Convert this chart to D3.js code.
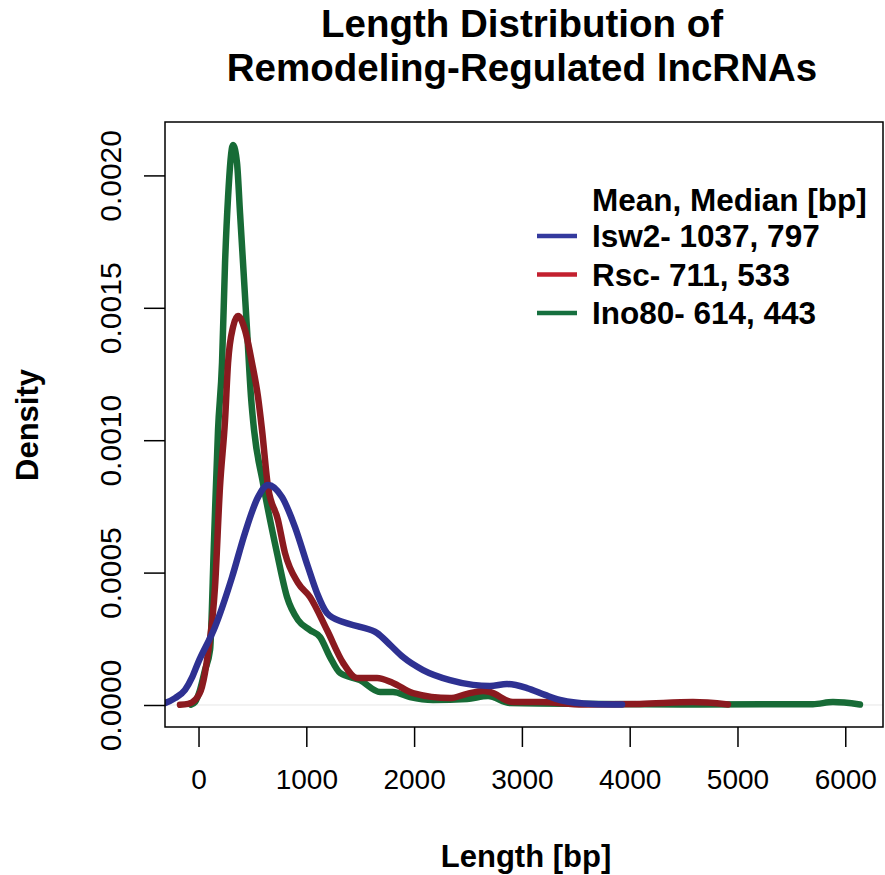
<!DOCTYPE html>
<html>
<head>
<meta charset="utf-8">
<script src="https://cdn.jsdelivr.net/npm/d3@7"></script>
<style>
  html, body { margin: 0; padding: 0; background: #fff; }
  svg { display: block; }
  text { font-family: "Liberation Sans", Arial, Helvetica, sans-serif; fill: #000; }
</style>
</head>
<body>
<svg id="chart" width="885" height="875"></svg>
<script>
// Kernel density estimates of lncRNA length, one curve per remodeler
const isw2Len = [-330, -311, -218, -125, -60, -5, 153, 311, 431, 552, 645, 775, 895, 1016, 1099, 1192, 1341, 1498, 1656, 1777, 1897, 2083, 2333, 2547, 2704, 2862, 3047, 3214, 3353, 3660, 3929];
const isw2Den = [0.0000055, 0.0000075, 0.000026, 0.000057, 0.000104, 0.000159, 0.000295, 0.000483, 0.00065, 0.000785, 0.000831, 0.000785, 0.000672, 0.000521, 0.000423, 0.000347, 0.000313, 0.000295, 0.000272, 0.000227, 0.000181, 0.000132, 0.000094, 0.000076, 0.000072, 0.000079, 0.000064, 0.000038, 0.000019, 0.000004, 0.000002];

const rscLen = [-172, -97, -32, 32, 88, 153, 199, 246, 274, 320, 366, 431, 496, 552, 589, 645, 737, 802, 923, 1034, 1192, 1341, 1470, 1656, 1804, 1990, 2333, 2491, 2639, 2704, 2917, 3168, 3567, 4096, 4587, 4912];
const rscDen = [0.000001, 0.000004, 0.000019, 0.000068, 0.000196, 0.000446, 0.000823, 0.001076, 0.001292, 0.001427, 0.001469, 0.001416, 0.001292, 0.001163, 0.001039, 0.000823, 0.000699, 0.000574, 0.000461, 0.000408, 0.000283, 0.000159, 0.000102, 0.000102, 0.000083, 0.000045, 0.000026, 0.000042, 0.000053, 0.000049, 0.000011, 0.000011, 0.000002, 0.000004, 0.000011, 0.000002];

const ino80Len = [-70, -32, 14, 60, 107, 144, 181, 218, 246, 274, 320, 357, 385, 413, 450, 487, 515, 598, 728, 821, 923, 1034, 1127, 1220, 1313, 1498, 1684, 1804, 1962, 2175, 2491, 2686, 2890, 3725, 4652, 5700, 5886, 6136];
const ino80Den = [0.000001, 0.000011, 0.000057, 0.000132, 0.000208, 0.000623, 0.001039, 0.001292, 0.001669, 0.001918, 0.002115, 0.002047, 0.001858, 0.001669, 0.001416, 0.001163, 0.001039, 0.000838, 0.000574, 0.000408, 0.000321, 0.000283, 0.000257, 0.000181, 0.000121, 0.000094, 0.000049, 0.000049, 0.00003, 0.000019, 0.000023, 0.000034, 0.0000075, 0.000004, 0.000002, 0.000003, 0.000011, 0.000002];

const seriesNames = ["Isw2", "Rsc", "Ino80"];
const legendLabels = ["Isw2- 1037, 797", "Rsc- 711, 533", "Ino80- 614, 443"];
const legendTitle = "Mean, Median [bp]";
const xTicks = [0, 1000, 2000, 3000, 4000, 5000, 6000];
const yTicks = [0, 0.0005, 0.0010, 0.0015, 0.0020];
const yTickLabels = ["0.0000", "0.0005", "0.0010", "0.0015", "0.0020"];
const titleLines = ["Length Distribution of", "Remodeling-Regulated lncRNAs"];

const lineColors = { Isw2: "#2e3192", Rsc: "#8b1a1f", Ino80: "#176b36" };
const keyColors = { Isw2: "#343a9e", Rsc: "#c3202f", Ino80: "#16703f" };

const svg = d3.select("#chart");
const box = { left: 165, right: 883, top: 122, bottom: 727 };

const x = d3.scaleLinear().domain([-311, 6350]).range([box.left, box.right]);
const y = d3.scaleLinear().domain([-0.0000831, 0.0022017]).range([box.bottom, box.top]);

svg.append("defs").append("clipPath").attr("id", "plotClip")
  .append("rect")
  .attr("x", box.left).attr("y", box.top)
  .attr("width", box.right - box.left).attr("height", box.bottom - box.top);

// zero reference line
svg.append("line")
  .attr("x1", box.left).attr("x2", box.right)
  .attr("y1", y(0)).attr("y2", y(0))
  .attr("stroke", "#e6e6e6").attr("stroke-width", 1);

const line = d3.line()
  .x(d => x(d[0]))
  .y(d => y(d[1]))
  .curve(d3.curveMonotoneX);

const curves = [
  { name: "Ino80", len: ino80Len, den: ino80Den },
  { name: "Rsc", len: rscLen, den: rscDen },
  { name: "Isw2", len: isw2Len, den: isw2Den }
];

const g = svg.append("g").attr("clip-path", "url(#plotClip)");
curves.forEach(c => {
  g.append("path")
    .datum(c.len.map((v, i) => [v, c.den[i]]))
    .attr("d", line)
    .attr("fill", "none")
    .attr("stroke", lineColors[c.name])
    .attr("stroke-width", 6.5)
    .attr("stroke-linecap", "round")
    .attr("stroke-linejoin", "round");
});

// plot frame
svg.append("rect")
  .attr("x", box.left).attr("y", box.top)
  .attr("width", box.right - box.left).attr("height", box.bottom - box.top)
  .attr("fill", "none").attr("stroke", "#000").attr("stroke-width", 1.5);

// x axis
const xAxis = d3.axisBottom(x).tickValues(xTicks).tickSize(20).tickPadding(22).tickFormat(d3.format("d"));
const gx = svg.append("g").attr("transform", `translate(0,${box.bottom})`).call(xAxis);
gx.select(".domain").remove();
gx.selectAll(".tick line").attr("stroke", "#000").attr("stroke-width", 1.5);
gx.selectAll(".tick text").attr("font-size", 28).attr("fill", "#000")
  .style("font-family", "'Liberation Sans', Arial, sans-serif");

// y axis
const yAxis = d3.axisLeft(y).tickValues(yTicks).tickSize(21).tickPadding(0).tickFormat((d, i) => yTickLabels[i]);
const gy = svg.append("g").attr("transform", `translate(${box.left},0)`).call(yAxis);
gy.select(".domain").remove();
gy.selectAll(".tick line").attr("stroke", "#000").attr("stroke-width", 1.5);
gy.selectAll(".tick text")
  .attr("font-size", 30).attr("fill", "#000")
  .attr("x", null).attr("dy", null)
  .attr("text-anchor", "middle")
  .attr("transform", "translate(-44,0) rotate(-90)")
  .style("font-family", "'Liberation Sans', Arial, sans-serif");

// titles
svg.append("text")
  .attr("x", 522).attr("text-anchor", "middle")
  .attr("font-size", 38.5).attr("font-weight", "bold")
  .selectAll("tspan").data(titleLines).join("tspan")
  .attr("x", 522).attr("y", (d, i) => 37 + i * 44)
  .text(d => d);

svg.append("text")
  .attr("x", 526).attr("y", 867).attr("text-anchor", "middle")
  .attr("font-size", 31).attr("font-weight", "bold")
  .text("Length [bp]");

svg.append("text")
  .attr("transform", "translate(38,425) rotate(-90)")
  .attr("text-anchor", "middle")
  .attr("font-size", 31).attr("font-weight", "bold")
  .text("Density");

// legend
const lg = svg.append("g");
lg.append("text")
  .attr("x", 592).attr("y", 211)
  .attr("font-size", 31.5).attr("font-weight", "bold")
  .text(legendTitle);
seriesNames.forEach((name, i) => {
  const cy = 236 + i * 38.5;
  lg.append("line")
    .attr("x1", 537).attr("x2", 577)
    .attr("y1", cy).attr("y2", cy)
    .attr("stroke", keyColors[name]).attr("stroke-width", 4.5);
  lg.append("text")
    .attr("x", 592).attr("y", cy + 11)
    .attr("font-size", 31.5).attr("font-weight", "bold")
    .text(legendLabels[i]);
});
</script>
</body>
</html>
